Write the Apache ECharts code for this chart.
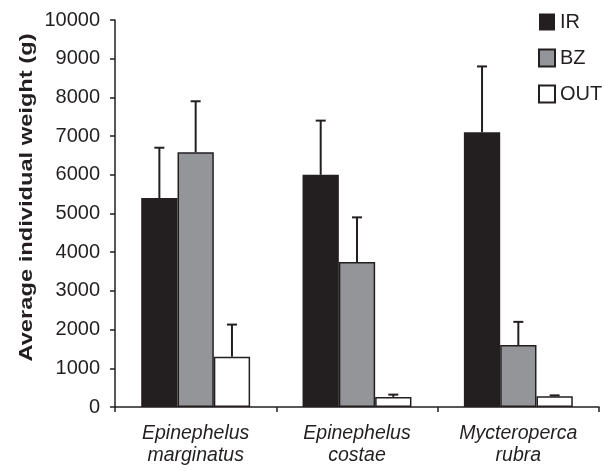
<!DOCTYPE html>
<html><head><meta charset="utf-8">
<script src="https://cdn.jsdelivr.net/npm/echarts@6/dist/echarts.min.js"></script>
<style>html,body{margin:0;padding:0;background:#fff}#c{width:604px;height:471px}</style>
</head><body><div id="c"></div>
<script>
const categories = ['Epinephelus\nmarginatus', 'Epinephelus\ncostae', 'Mycteroperca\nrubra'];
const seriesNames = ['IR', 'BZ', 'OUT'];
const irValues = [5400, 6000, 7100];
const irErrors = [1300, 1400, 1700];
const bzValues = [6580, 3750, 1600];
const bzErrors = [1320, 1150, 600];
const outValues = [1300, 260, 280];
const outErrors = [830, 60, 20];
const yTicks = {min: 0, max: 10000, interval: 1000};
const yTitle = 'Average individual weight (g)';

const values = [irValues, bzValues, outValues];
const errors = [irErrors, bzErrors, outErrors];
const fills = ['#231f20', '#939598', '#ffffff'];
const BW = 0.225;
const ink = '#231f20';
const FF = '"Liberation Sans", Arial, sans-serif';

const series = [];
seriesNames.forEach((n, i) => {
  series.push({
    name: n, type: 'bar', barWidth: (BW * 100) + '%', barGap: '0%',
    data: values[i],
    itemStyle: {color: fills[i], borderColor: ink, borderWidth: i === 0 ? 0 : 1.5},
    z: 2
  });
});
seriesNames.forEach((n, i) => {
  series.push({
    type: 'custom', z: 1,
    data: values[i].map((v, k) => [k, v, v + errors[i][k]]),
    renderItem: function (params, api) {
      const band = api.size([1, 0])[0];
      const off = (i - 1) * band * BW;
      const p0 = api.coord([api.value(0), api.value(1)]);
      const p1 = api.coord([api.value(0), api.value(2)]);
      const x = p0[0] + off;
      const st = {stroke: ink, lineWidth: 2};
      return {type: 'group', children: [
        {type: 'line', shape: {x1: x, y1: p0[1], x2: x, y2: p1[1]}, style: st},
        {type: 'line', shape: {x1: x - 5, y1: p1[1], x2: x + 5, y2: p1[1]}, style: st}
      ]};
    }
  });
});

const chart = echarts.init(document.getElementById('c'), null, {renderer: 'canvas'});
chart.setOption({
  animation: false,
  backgroundColor: '#fff',
  textStyle: {fontFamily: FF},
  grid: {left: 115, right: 5, top: 20, bottom: 64},
  graphic: [{
    type: 'text', x: 27, y: 197.5, rotation: Math.PI / 2, scaleX: 1.28,
    style: {text: yTitle, font: 'bold 18.5px ' + FF, fill: ink, align: 'center', verticalAlign: 'middle'}
  }],
  legend: {
    orient: 'vertical', left: 538, top: 12, padding: 0, itemWidth: 16, itemHeight: 17, itemGap: 16,
    icon: 'rect', data: seriesNames,
    textStyle: {fontSize: 20, color: ink, fontFamily: FF}
  },
  xAxis: {
    type: 'category', data: categories,
    axisLine: {lineStyle: {color: ink, width: 1.5}},
    axisTick: {show: true, length: 5, lineStyle: {color: ink, width: 1.5}},
    axisLabel: {fontSize: 19.5, fontStyle: 'italic', color: ink, lineHeight: 22.5, margin: 15, fontFamily: FF}
  },
  yAxis: {
    type: 'value', min: yTicks.min, max: yTicks.max, interval: yTicks.interval,
    axisLine: {show: true, lineStyle: {color: ink, width: 1.5}},
    axisTick: {show: true, length: 5, lineStyle: {color: ink, width: 1.5}},
    splitLine: {show: false},
    axisLabel: {fontSize: 20, color: ink, margin: 15, fontFamily: FF, formatter: v => String(v)}
  },
  series: series
});
</script></body></html>
